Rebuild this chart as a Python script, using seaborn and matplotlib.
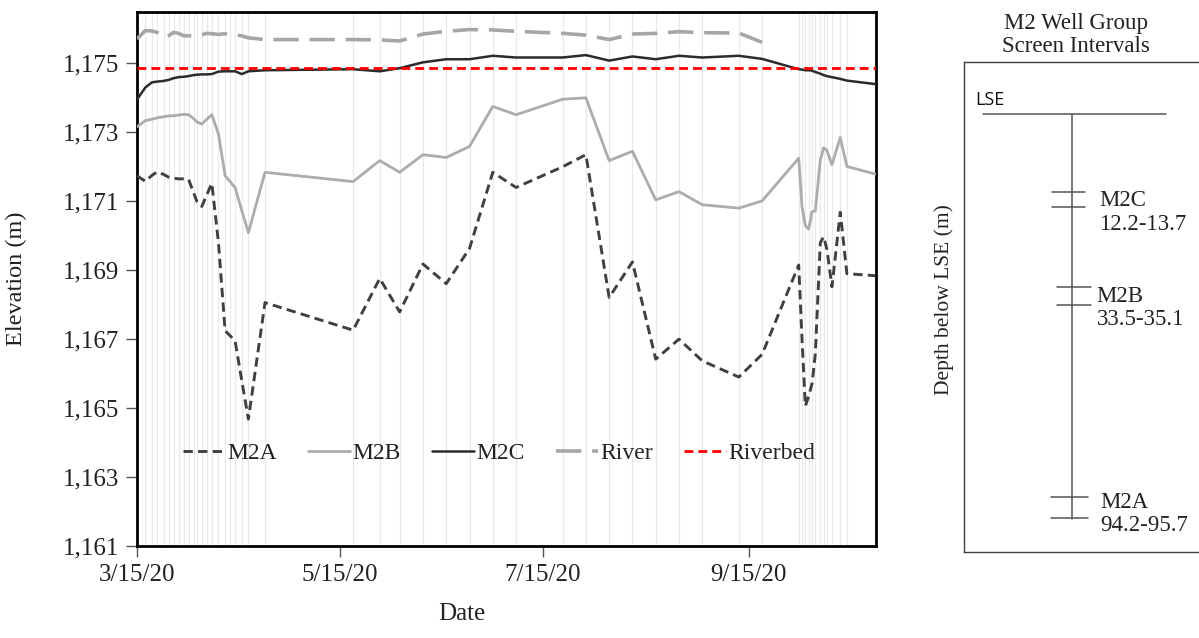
import numpy as np
import pandas as pd
import matplotlib
matplotlib.use("Agg")
import matplotlib.pyplot as plt
import matplotlib.dates as mdates
from matplotlib.ticker import FuncFormatter, FixedLocator
import seaborn as sns

# ---------------- data ----------------
dates = [
    "2020-03-15 00:00", "2020-03-17 12:00", "2020-03-19 12:00", "2020-03-21 00:00",
    "2020-03-23 00:00", "2020-03-24 12:00", "2020-03-26 00:00", "2020-03-27 12:00",
    "2020-03-29 00:00", "2020-03-30 12:00", "2020-04-01 00:00", "2020-04-02 00:00",
    "2020-04-03 12:00", "2020-04-05 00:00", "2020-04-06 12:00", "2020-04-08 12:00",
    "2020-04-10 12:00", "2020-04-12 00:00", "2020-04-13 12:00", "2020-04-15 12:00",
    "2020-04-17 12:00", "2020-04-22 12:00",
    "2020-05-19 00:00", "2020-05-27 00:00", "2020-06-02 00:00", "2020-06-09 00:00",
    "2020-06-16 00:00", "2020-06-23 00:00", "2020-06-30 00:00", "2020-07-07 00:00",
    "2020-07-21 00:00", "2020-07-28 00:00", "2020-08-04 00:00", "2020-08-11 00:00",
    "2020-08-18 00:00", "2020-08-25 00:00", "2020-09-01 00:00", "2020-09-12 00:00",
    "2020-09-19 00:00",
    "2020-09-30 00:00", "2020-10-01 00:00", "2020-10-02 00:00", "2020-10-03 00:00",
    "2020-10-04 00:00", "2020-10-05 00:00", "2020-10-06 12:00", "2020-10-07 12:00",
    "2020-10-08 12:00", "2020-10-10 00:00", "2020-10-12 12:00", "2020-10-14 12:00",
    "2020-10-23 00:00",
]

m2a = [
    1171.74, 1171.58, 1171.75, 1171.85, 1171.78, 1171.70, 1171.67, 1171.65, 1171.65, 1171.64,
    1171.25, 1171.00, 1170.85, 1171.19, 1171.52, 1169.80, 1167.24, 1167.10, 1166.95, 1165.80,
    1164.68, 1168.06,
    1167.26, 1168.76, 1167.79, 1169.18, 1168.61, 1169.63, 1171.84, 1171.40, 1172.00, 1172.35,
    1168.21, 1169.24, 1166.42, 1167.00, 1166.37, 1165.90, 1166.56,
    1169.15, 1167.00, 1165.06, 1165.35, 1165.70, 1166.57, 1169.80, 1169.97, 1169.60, 1168.52,
    1170.68, 1168.90, 1168.84,
]

m2b = [
    1173.16, 1173.34, 1173.38, 1173.42, 1173.45, 1173.48, 1173.48, 1173.50, 1173.52, 1173.51,
    1173.40, 1173.30, 1173.24, 1173.38, 1173.51, 1172.95, 1171.74, 1171.57, 1171.40, 1170.73,
    1170.09, 1171.84,
    1171.57, 1172.18, 1171.84, 1172.35, 1172.27, 1172.59, 1173.75, 1173.51, 1173.96, 1174.00,
    1172.18, 1172.45, 1171.04, 1171.28, 1170.90, 1170.80, 1171.01,
    1172.25, 1170.84, 1170.30, 1170.19, 1170.70, 1170.72, 1172.20, 1172.55, 1172.47, 1172.06,
    1172.85, 1172.01, 1171.79,
]

m2c = [
    1173.95, 1174.30, 1174.45, 1174.47, 1174.49, 1174.52, 1174.57, 1174.60, 1174.61, 1174.63,
    1174.66, 1174.67, 1174.68, 1174.68, 1174.69, 1174.76, 1174.77, 1174.77, 1174.77, 1174.69,
    1174.77, 1174.80,
    1174.83, 1174.77, 1174.86, 1175.03, 1175.12, 1175.12, 1175.22, 1175.17, 1175.17, 1175.24,
    1175.08, 1175.20, 1175.12, 1175.22, 1175.17, 1175.22, 1175.13,
    1174.83, 1174.82, 1174.80, 1174.80, 1174.79, 1174.75, 1174.70, 1174.66, 1174.63, 1174.60,
    1174.55, 1174.50, 1174.40,
]

nan = np.nan
river = [
    1175.71, 1175.95, 1175.94, 1175.90, 1175.76, 1175.80, 1175.90, 1175.87, 1175.80, 1175.80,
    1175.80, 1175.80, 1175.83, 1175.87, 1175.86, 1175.84, 1175.86, 1175.85, 1175.83, 1175.80,
    1175.74, 1175.69,
    1175.69, 1175.68, 1175.65, 1175.85, 1175.93, 1175.98, 1175.97, 1175.93, 1175.87, 1175.82,
    1175.69, 1175.85, 1175.87, 1175.92, 1175.89, 1175.88, 1175.61,
    nan, nan, nan, nan, nan, nan, nan, nan, nan, nan, nan, nan, nan,
]

riverbed_elev = 1174.87

x_tick_dates = ["2020-03-15", "2020-05-15", "2020-07-15", "2020-09-15"]
x_tick_labels = ["3/15/20", "5/15/20", "7/15/20", "9/15/20"]
y_ticks = [1161, 1163, 1165, 1167, 1169, 1171, 1173, 1175]

wells = ["M2C", "M2B", "M2A"]
screen_top = [12.2, 33.5, 94.2]
screen_bottom = [13.7, 35.1, 95.7]

# ---------------- styling ----------------
sns.set_theme(style="white")
plt.rcParams['font.family'] = ['Liberation Serif', 'DejaVu Serif']

df = pd.DataFrame({"Date": pd.to_datetime(dates, format="%Y-%m-%d %H:%M"),
                   "M2A": m2a, "M2B": m2b, "M2C": m2c, "River": river})

W, H = 1199, 638
fig = plt.figure(figsize=(W / 100, H / 100), dpi=100)
ax = fig.add_axes([137 / W, 1 - 546 / H, 739 / W, 534 / H])

sns.lineplot(data=df, x="Date", y="River", ax=ax, color="#a6a6a6", lw=2.6,
             linestyle=(0, (7, 3)), label="River", zorder=3)
sns.lineplot(data=df, x="Date", y="M2B", ax=ax, color="#acacac", lw=2.0,
             label="M2B", zorder=4)
sns.lineplot(data=df, x="Date", y="M2C", ax=ax, color="#2b2b2b", lw=1.8,
             label="M2C", zorder=5)
sns.lineplot(data=df, x="Date", y="M2A", ax=ax, color="#404040", lw=2.1,
             linestyle=(0, (3.2, 1.8)), label="M2A", zorder=6)
ax.axhline(riverbed_elev, color="#ff0000", lw=2.0, linestyle=(0, (3.2, 1.8)),
           label="Riverbed", zorder=7)

ax.set_xlim(pd.Timestamp("2020-03-15"), pd.Timestamp("2020-10-23 06:00"))
ax.set_ylim(1161, 1176.49)

ax.set_xticks(pd.to_datetime(x_tick_dates))
ax.set_xticklabels(x_tick_labels)
ax.xaxis.set_minor_locator(FixedLocator(mdates.date2num(df["Date"])))
ax.set_yticks(y_ticks)
ax.yaxis.set_major_formatter(FuncFormatter(lambda v, p: f"{v:,.0f}"))

ax.grid(False)
ax.grid(True, which="minor", axis="x", color="#e9e9e9", lw=0.9)
ax.set_axisbelow(True)

ax.tick_params(axis="both", which="major", direction="out", length=8, width=1,
               color="#555555", labelsize=18, pad=5, bottom=True, left=True,
               labelcolor="#222222")
ax.tick_params(axis="x", which="minor", length=0, bottom=False)

for s in ax.spines.values():
    s.set_color("black")
    s.set_linewidth(2.0)

ax.set_ylabel("Elevation (m)", fontsize=17.5, color="#222222")
ax.yaxis.set_label_coords(-0.149, 0.5)
ax.set_xlabel("Date", fontsize=18, color="#222222")
ax.xaxis.set_label_coords(0.44, -0.128)
ax.xaxis.label.set_va("center")

handles, labels = ax.get_legend_handles_labels()
order = ["M2A", "M2B", "M2C", "River", "Riverbed"]
hd = dict(zip(labels, handles))
ax.legend([hd[k] for k in order], order, loc="center", bbox_to_anchor=(0.49, 0.174),
          ncol=5, frameon=False, fontsize=17, handlelength=1.75, handletextpad=0.1,
          columnspacing=1.35, labelcolor="#222222")

# ---------------- schematic of screen intervals ----------------
ax2 = fig.add_axes([964 / W, 1 - 552 / H, (W - 964) / W, 490 / H])
ax2.set_xlim(0, 1)
ax2.set_ylim(0, 1)
ax2.set_xticks([])
ax2.set_yticks([])
ax2.grid(False)
for k, s in ax2.spines.items():
    s.set_color("#404040")
    s.set_linewidth(1.0)
ax2.spines["right"].set_visible(False)

line_c = "#555555"
ax2.plot([0.081, 0.86], [0.893, 0.893], color=line_c, lw=1.1)
ax2.plot([0.46, 0.46], [0.893, 0.068], color=line_c, lw=1.1)
ax2.text(0.047, 0.922, "LSE", fontsize=13, family=["Open Sans", "DejaVu Sans"],
         ha="left", va="center", color="#111111")

# schematic (not to scale) layout of each screen
tick_y = {"M2C": (0.735, 0.704), "M2B": (0.541, 0.505), "M2A": (0.112, 0.070)}
tick_x = {"M2C": (0.373, 0.515), "M2B": (0.397, 0.539), "M2A": (0.369, 0.529)}
label_pos = {"M2C": (0.576, 0.718, 0.669), "M2B": (0.565, 0.522, 0.474),
             "M2A": (0.579, 0.102, 0.055)}
for w, top, bot in zip(wells, screen_top, screen_bottom):
    for yy in tick_y[w]:
        ax2.plot(tick_x[w], [yy, yy], color=line_c, lw=1.1)
    lx, ly1, ly2 = label_pos[w]
    ax2.text(lx, ly1, w, fontsize=16.5, ha="left", va="center", color="#222222")
    ax2.text(lx, ly2, f"{top}-{bot}", fontsize=16.5, ha="left", va="center",
             color="#222222")

fig.text(1076 / W, 1 - 23 / H, "M2 Well Group", ha="center", va="center",
         fontsize=16.5, color="#222222")
fig.text(1076 / W, 1 - 47 / H, "Screen Intervals", ha="center", va="center",
         fontsize=16.5, color="#222222")
fig.text(944 / W, 1 - 300 / H, "Depth below LSE (m)", ha="center", va="center",
         rotation=90, fontsize=15.5, color="#222222")

fig.savefig("out.png", dpi=100)
